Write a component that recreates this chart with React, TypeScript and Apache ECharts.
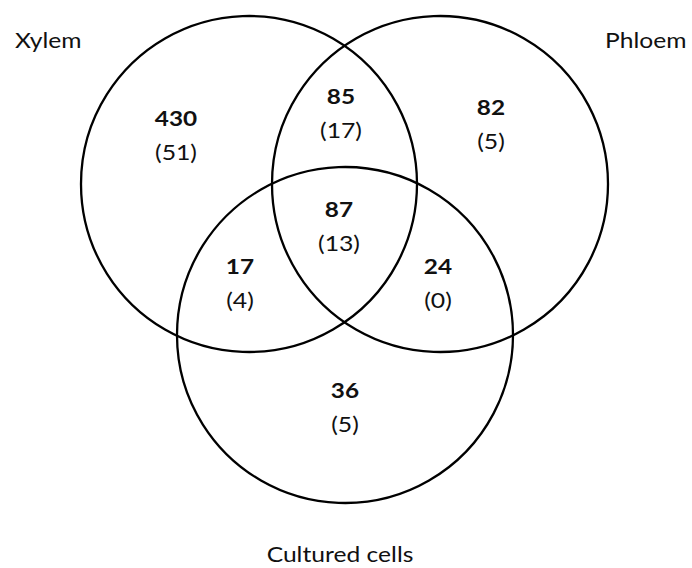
import React, { useEffect, useRef } from "react";
import * as echarts from "echarts";

// Data
const setNames = ["Xylem", "Phloem", "Cultured cells"];
const regionNames = ["Xylem only", "Xylem ∩ Phloem", "Phloem only", "All three", "Xylem ∩ Cultured", "Phloem ∩ Cultured", "Cultured only"];
const counts = [430, 85, 82, 87, 17, 24, 36];
const subCounts = [51, 17, 5, 13, 4, 0, 5];

// Layout (pixel space of the 692x568 canvas)
const circleCX = [249, 440, 345];
const circleCY = [184, 184, 335];
const circleR = [168, 168, 168];
const setLabelX = [15, 605, 340];
const setLabelY = [40, 40, 554];
const setLabelAlign = ["left", "left", "center"];
const regionX = [176, 341, 491, 339, 240, 438, 345];
const regionY = [135, 113, 124, 226, 283, 283, 407];

const FONT = "Lato, 'Open Sans', sans-serif";

export default function App() {
  const ref = useRef<HTMLDivElement>(null);
  useEffect(() => {
    if (!ref.current) return;
    const chart = echarts.init(ref.current, null, { renderer: "svg" });
    chart.setOption({
      animation: false,
      backgroundColor: "#ffffff",
      grid: { left: 0, right: 0, top: 0, bottom: 0 },
      xAxis: { type: "value", min: 0, max: 692, show: false },
      yAxis: { type: "value", min: 0, max: 568, inverse: true, show: false },
      series: [
        {
          type: "custom",
          name: "sets",
          data: setNames.map((n, i) => [circleCX[i], circleCY[i], circleR[i], i]),
          renderItem: (params: any, api: any) => {
            const c = api.coord([api.value(0), api.value(1)]);
            const r = api.size([api.value(2), 0])[0];
            return {
              type: "circle",
              shape: { cx: c[0], cy: c[1], r },
              style: { fill: "none", stroke: "#000", lineWidth: 2.3 },
            };
          },
          silent: true,
        },
        {
          type: "custom",
          name: "setLabels",
          data: setNames.map((n, i) => [setLabelX[i], setLabelY[i], i]),
          renderItem: (params: any, api: any) => {
            const i = api.value(2);
            const c = api.coord([api.value(0), api.value(1)]);
            return {
              type: "text",
              x: c[0],
              y: c[1],
              scaleX: 1.12,
              style: {
                text: setNames[i],
                font: `normal 22px ${FONT}`,
                fill: "#111",
                align: setLabelAlign[i],
                verticalAlign: "middle",
              },
            };
          },
          silent: true,
        },
        {
          type: "custom",
          name: "regions",
          data: regionNames.map((n, i) => [regionX[i], regionY[i], counts[i], subCounts[i]]),
          renderItem: (params: any, api: any) => {
            const c = api.coord([api.value(0), api.value(1)]);
            return {
              type: "group",
              children: [
                {
                  type: "text",
                  x: c[0],
                  y: c[1] - 16.5,
                  scaleX: 1.16,
                  style: {
                    text: String(api.value(2)),
                    font: `bold 21px ${FONT}`,
                    fill: "#111",
                    align: "center",
                    verticalAlign: "middle",
                  },
                },
                {
                  type: "text",
                  x: c[0],
                  y: c[1] + 16.5,
                  scaleX: 1.18,
                  style: {
                    text: `(${api.value(3)})`,
                    font: `normal 21px ${FONT}`,
                    fill: "#111",
                    align: "center",
                    verticalAlign: "middle",
                  },
                },
              ],
            };
          },
          silent: true,
        },
      ],
    });
    return () => chart.dispose();
  }, []);
  return (
    <div
      ref={ref}
      style={{ position: "fixed", left: 0, top: 0, width: 692, height: 568, background: "#fff" }}
    />
  );
}
